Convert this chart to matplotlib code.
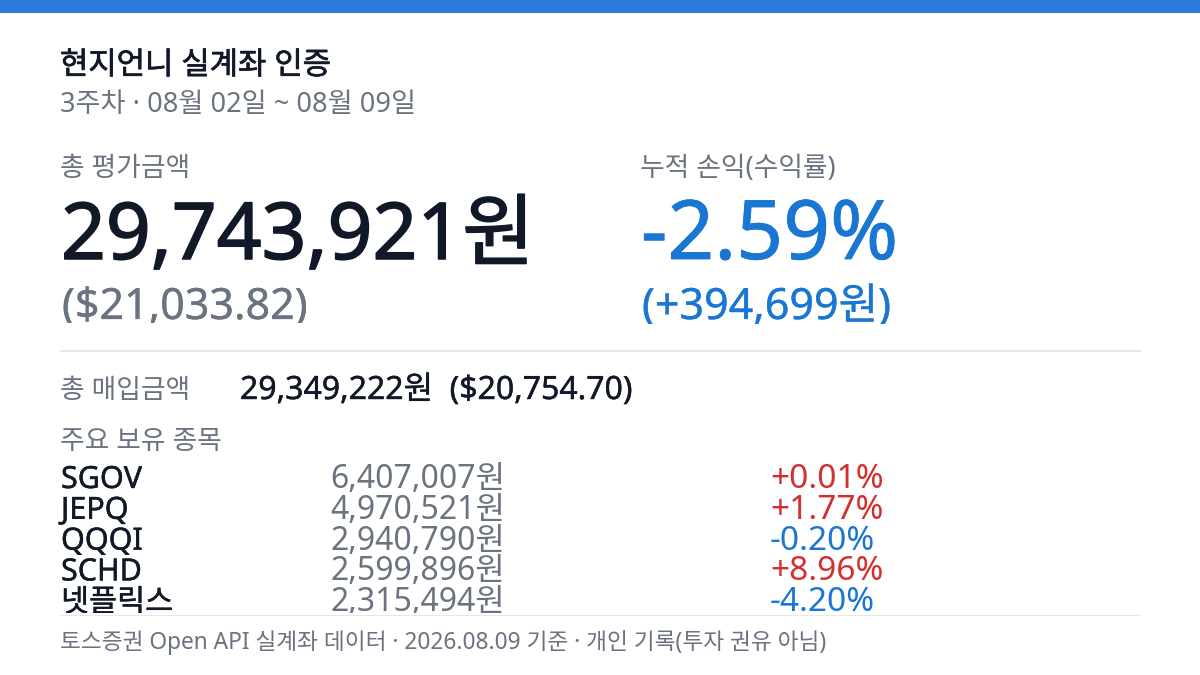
import matplotlib
matplotlib.use("Agg")
import matplotlib.pyplot as plt
from matplotlib.patches import Rectangle
import matplotlib.patheffects as pe

FONT = ['Noto Sans', 'Noto Sans CJK KR', 'DejaVu Sans']
plt.rcParams['font.family'] = FONT

title = "현지언니 실계좌 인증"
subtitle = "3주차 · 08월 02일 ~ 08월 09일"
label_value = "총 평가금액"
label_return = "누적 손익(수익률)"
total_krw = "29,743,921원"
total_usd = "($21,033.82)"
return_pct = "-2.59%"
return_krw = "(+394,699원)"
label_cost = "총 매입금액"
cost_text = "29,349,222원  ($20,754.70)"
label_hold = "주요 보유 종목"
names = ["SGOV", "JEPQ", "QQQI", "SCHD", "넷플릭스"]
amounts = ["6,407,007원", "4,970,521원", "2,940,790원", "2,599,896원", "2,315,494원"]
changes = ["+0.01%", "+1.77%", "-0.20%", "+8.96%", "-4.20%"]
footer = "토스증권 Open API 실계좌 데이터 · 2026.08.09 기준 · 개인 기록(투자 권유 아님)"

DARK = "#111827"; GRAY = "#6b7280"; BLUE = "#1976d2"; RED = "#d32f2f"

fig = plt.figure(figsize=(12, 6.75), dpi=100, facecolor="white")
ax = fig.add_axes([0, 0, 1, 1])
ax.set_xlim(0, 1200); ax.set_ylim(675, 0); ax.axis("off")

PX = 72 / 100

def T(x, y, s, size, color, stroke=0.0, clip_to=None):
    t = ax.text(x, y, s, fontsize=size * PX, color=color,
                va="baseline", ha="left", family=FONT)
    if stroke:
        t.set_path_effects([pe.withStroke(linewidth=stroke, foreground=color)])
    if clip_to is not None:
        t.set_clip_on(True)
        t.set_clip_path(Rectangle((0, 0), 1200, clip_to, transform=ax.transData))
    return t

ax.add_patch(Rectangle((0, 0), 1200, 13, color="#2b7bd9", lw=0))
T(60, 74, title, 30.8, DARK, 0.5)
T(60, 111.5, subtitle, 27.2, GRAY)
T(60, 176, label_value, 26.8, GRAY)
T(640, 176, label_return, 26.8, GRAY)
T(61, 259, total_krw, 78.5, DARK, 1.1)
T(641, 259, return_pct, 82, BLUE, 0.6)
T(62, 319, total_usd, 43, GRAY, 0.2, clip_to=323)
T(642, 319, return_krw, 43, BLUE, 0.2, clip_to=324)
ax.add_patch(Rectangle((60, 350), 1081, 2, color="#e5e7eb", lw=0))
T(60, 398, label_cost, 26.8, GRAY)
T(240, 399, cost_text, 32, DARK, 0.3)
T(60, 449, label_hold, 26.8, GRAY)
for i, (n, a, c) in enumerate(zip(names, amounts, changes)):
    y = 488 + i * 30.8
    T(61, y, n, 30.5, DARK, 0.3, clip_to=613)
    T(330, y, a, 32, GRAY, clip_to=613)
    T(770, y, c, 33.5, RED if c.startswith("+") else BLUE, clip_to=613)
ax.add_patch(Rectangle((60, 615), 1081, 1, color="#e5e7eb", lw=0))
T(60, 649, footer, 22.7, GRAY)

fig.savefig("out.png", dpi=100, facecolor="white")
